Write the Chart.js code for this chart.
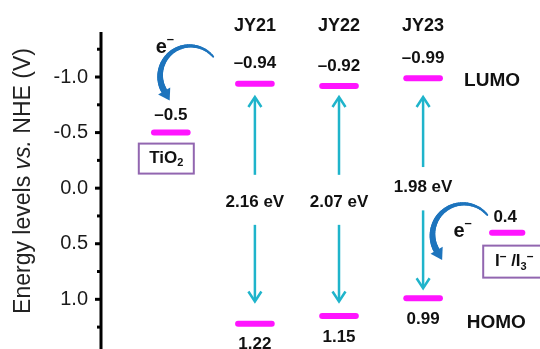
<!DOCTYPE html>
<html>
<head>
<meta charset="utf-8">
<script src="https://cdn.jsdelivr.net/npm/chart.js@4"></script>
<style>
  body { margin: 0; background: #fff; }
  canvas { display: block; }
</style>
</head>
<body>
<canvas id="grafico" width="540" height="349"></canvas>
<script>
// datos del diagrama de niveles
const dyes = ["JY21", "JY22", "JY23"];
const lumo = [-0.94, -0.92, -0.99];
const homo = [1.22, 1.15, 0.99];
const gaps = [2.16, 2.07, 1.98];
const gapLabelY = [0.13, 0.13, -0.01];
const arrowUp = [[-0.12, -0.82], [-0.12, -0.82], [-0.19, -0.82]];
const arrowDown = [[0.33, 1.02], [0.33, 1.02], [0.20, 0.90]];
const tio2 = -0.5;
const redox = 0.4;
const yTicks = [-1.0, -0.5, 0.0, 0.5, 1.0];
const yMinor = [-1.25, -0.75, -0.25, 0.25, 0.75, 1.25];

const MAG = "#ff14ff";
const CYAN = "#1fb4cb";
const BLUE = "#1d74bd";
const PURPLE = "#9266b0";
const FONT = "'Liberation Sans', Arial, sans-serif";

function barra(cx, y, half) {
    return {
        data: [{x: cx - half, y: y}, {x: cx + half, y: y}],
        borderColor: MAG, borderWidth: 6, borderCapStyle: "round",
        pointRadius: 0, fill: false
    };
}

const datasets = [barra(1, tio2, 0.2), barra(5, redox, 0.18)];
for (let i = 0; i < dyes.length; i++) {
    datasets.push(barra(i + 2, lumo[i], 0.2));
    datasets.push(barra(i + 2, homo[i], 0.2));
}

function texto(ctx, partes, x, y, align) {
    // partes: [texto, tamaño, negrita, dy]
    let total = 0;
    partes.forEach(p => {
        ctx.font = (p[2] ? "bold " : "") + p[1] + "px " + FONT;
        total += ctx.measureText(p[0]).width;
    });
    let cx = align === "left" ? x : x - total / 2;
    ctx.textBaseline = "middle";
    ctx.textAlign = "left";
    partes.forEach(p => {
        ctx.font = (p[2] ? "bold " : "") + p[1] + "px " + FONT;
        ctx.fillText(p[0], cx, y + (p[3] || 0));
        cx += ctx.measureText(p[0]).width;
    });
}

function flecha(ctx, x, y1, y2) {
    const dir = y2 > y1 ? 1 : -1;
    ctx.strokeStyle = CYAN;
    ctx.lineWidth = 2.5;
    ctx.beginPath();
    ctx.moveTo(x, y1);
    ctx.lineTo(x, y2 - dir);
    ctx.stroke();
    ctx.beginPath();
    ctx.moveTo(x - 6.5, y2 - dir * 10);
    ctx.lineTo(x, y2);
    ctx.lineTo(x + 6.5, y2 - dir * 10);
    ctx.stroke();
}

function curva(ctx, cx, cy, r) {
    const a0 = -40 * Math.PI / 180, a1 = 150 * Math.PI / 180;
    const n = 40;
    // arco que se ensancha
    for (let k = 0; k < n; k++) {
        const t0 = a0 - (a0 - (a1 - 2 * Math.PI)) * k / n;
        const t1 = a0 - (a0 - (a1 - 2 * Math.PI)) * (k + 1) / n;
        ctx.beginPath();
        ctx.strokeStyle = BLUE;
        ctx.lineWidth = 2 + 4.5 * k / n;
        ctx.lineCap = "round";
        ctx.arc(cx, cy, r, t0, t1, true);
        ctx.stroke();
    }
    const ex = cx + r * Math.cos(a1), ey = cy + r * Math.sin(a1);
    const tx = Math.sin(a1), ty = -Math.cos(a1);
    const nx = -ty, ny = tx;
    ctx.fillStyle = BLUE;
    ctx.beginPath();
    ctx.moveTo(ex + tx * 11, ey + ty * 11);
    ctx.lineTo(ex + nx * 7, ey + ny * 7);
    ctx.lineTo(ex - nx * 7, ey - ny * 7);
    ctx.closePath();
    ctx.fill();
}

const dibujos = {
    id: "dibujos",
    afterDraw(chart) {
        const ctx = chart.ctx;
        const X = v => chart.scales.x.getPixelForValue(v);
        const Y = v => chart.scales.y.getPixelForValue(v);
        const area = chart.chartArea;
        ctx.save();

        // eje y
        ctx.strokeStyle = "#000";
        ctx.lineWidth = 3;
        ctx.beginPath();
        ctx.moveTo(area.left, area.top);
        ctx.lineTo(area.left, area.bottom);
        ctx.stroke();
        yTicks.forEach(v => {
            ctx.beginPath();
            ctx.moveTo(area.left - 6, Y(v));
            ctx.lineTo(area.left, Y(v));
            ctx.stroke();
        });
        yMinor.forEach(v => {
            ctx.beginPath();
            ctx.moveTo(area.left - 4, Y(v));
            ctx.lineTo(area.left, Y(v));
            ctx.stroke();
        });

        // titulo del eje
        ctx.save();
        ctx.translate(24, 181);
        ctx.rotate(-Math.PI / 2);
        ctx.fillStyle = "#222";
        const t1 = "Energy levels ", t2 = "vs.", t3 = " NHE (V)";
        ctx.font = "23px " + FONT;
        const w1 = ctx.measureText(t1).width, w3 = ctx.measureText(t3).width;
        ctx.font = "italic 23px " + FONT;
        const w2 = ctx.measureText(t2).width;
        let px = -(w1 + w2 + w3) / 2;
        ctx.textBaseline = "middle";
        ctx.textAlign = "left";
        ctx.font = "23px " + FONT;
        ctx.fillText(t1, px, 0);
        ctx.font = "italic 23px " + FONT;
        ctx.fillText(t2, px + w1, 0);
        ctx.font = "23px " + FONT;
        ctx.fillText(t3, px + w1 + w2, 0);
        ctx.restore();

        ctx.fillStyle = "#111";
        // colorantes
        for (let i = 0; i < dyes.length; i++) {
            const x = X(i + 2);
            texto(ctx, [[dyes[i], 18, true]], x, area.top - 6);
            texto(ctx, [["\u2013" + Math.abs(lumo[i]).toFixed(2), 17, true]], x, Y(lumo[i]) - 20);
            texto(ctx, [[homo[i].toFixed(2), 17, true]], x, Y(homo[i]) + 21);
            texto(ctx, [[gaps[i].toFixed(2) + " eV", 17, true]], x, Y(gapLabelY[i]));
            flecha(ctx, x, Y(arrowUp[i][0]), Y(arrowUp[i][1]));
            flecha(ctx, x, Y(arrowDown[i][0]), Y(arrowDown[i][1]));
        }
        ctx.fillStyle = "#111";
        texto(ctx, [["LUMO", 19, true]], X(4.82), Y(-0.97));
        texto(ctx, [["HOMO", 19, true]], X(4.87), Y(1.215));

        // TiO2
        texto(ctx, [["\u2013" + Math.abs(tio2).toFixed(1), 17, true]], X(1), Y(tio2) - 17);
        ctx.strokeStyle = PURPLE;
        ctx.lineWidth = 2;
        ctx.strokeRect(X(1) - 32, Y(tio2) + 11, 55, 30);
        ctx.fillStyle = "#111";
        texto(ctx, [["TiO", 17, true], ["2", 11, true, 4]], X(1) - 4.5, Y(tio2) + 26);

        // I-/I3-
        texto(ctx, [[redox.toFixed(1), 17, true]], X(5) - 2, Y(redox) - 15);
        ctx.strokeStyle = PURPLE;
        ctx.strokeRect(X(5) - 24, Y(redox) + 13, 60, 32);
        ctx.fillStyle = "#111";
        texto(ctx, [["I", 17, true], ["\u2013", 12, true, -5], [" /I", 17, true], ["3", 11, true, 5], ["\u2013", 12, true, -5]], X(5) + 7, Y(redox) + 29);

        // flechas curvas de electrones
        curva(ctx, X(1.23), Y(-1.01), 30);
        ctx.fillStyle = "#111";
        texto(ctx, [["e", 20, true], ["\u2013", 13, true, -8]], X(0.93), Y(-1.27));
        curva(ctx, X(4.48), Y(0.42), 31);
        ctx.fillStyle = "#111";
        texto(ctx, [["e", 20, true], ["\u2013", 13, true, -8]], X(4.47), Y(0.39));

        ctx.restore();
    }
};

new Chart(document.getElementById("grafico"), {
    type: "line",
    data: { datasets: datasets },
    options: {
        responsive: false,
        animation: false,
        devicePixelRatio: 1,
        layout: { padding: { top: 32, right: 0, bottom: 0, left: 0 } },
        plugins: { legend: { display: false }, tooltip: { enabled: false } },
        scales: {
            x: { type: "linear", min: 0.17, max: 5.39, display: false },
            y: {
                type: "linear",
                reverse: true,
                min: -1.405,
                max: 1.447,
                afterFit: s => { s.width = 101; s.paddingTop = 0; s.paddingBottom = 0; },
                afterBuildTicks: s => { s.ticks = yTicks.map(v => ({ value: v })); },
                grid: { display: false, drawTicks: false },
                border: { display: false },
                ticks: {
                    padding: 13,
                    color: "#1a1a1a",
                    font: { family: FONT, size: 20 },
                    callback: v => v.toFixed(1)
                }
            }
        }
    },
    plugins: [dibujos]
});
</script>
</body>
</html>
